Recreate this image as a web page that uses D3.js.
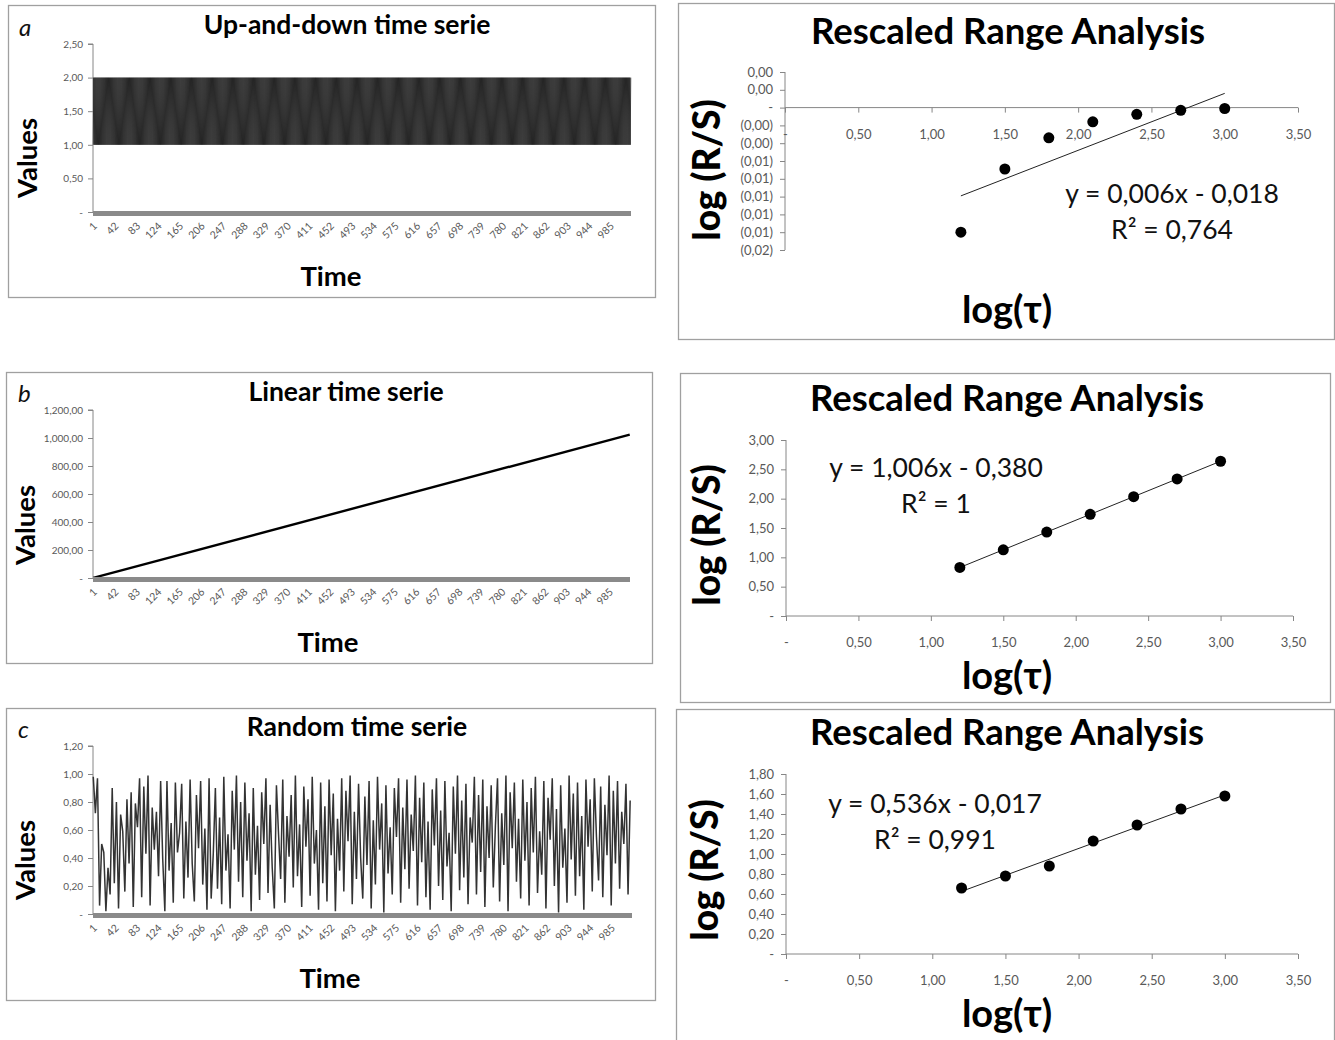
<!DOCTYPE html>
<html>
<head>
<meta charset="utf-8">
<script src="https://cdn.jsdelivr.net/npm/d3@7"></script>
<style>
  html, body { margin: 0; padding: 0; background: #fff; }
  svg { display: block; }
  text { font-family: Lato, "Open Sans", sans-serif; }
</style>
</head>
<body>
<svg id="fig" width="1335" height="1040"></svg>
<script>
// ---------- data ----------
// Time axis categories run from 1 to 1024; every 41st category is labelled.
const timeCount = 1024;
const timeTickLabels = ["1","42","83","124","165","206","247","288","329","370","411","452","493",
  "534","575","616","657","698","739","780","821","862","903","944","985"];

// (a) up-and-down series, one value per time step
const upDownValues = [
1,2,1,2,1,2,1,2,1,2,1,2,1,2,1,2,1,2,1,2,1,2,1,2,1,2,1,2,1,2,1,2,
1,2,1,2,1,2,1,2,1,2,1,2,1,2,1,2,1,2,1,2,1,2,1,2,1,2,1,2,1,2,1,2,
1,2,1,2,1,2,1,2,1,2,1,2,1,2,1,2,1,2,1,2,1,2,1,2,1,2,1,2,1,2,1,2,
1,2,1,2,1,2,1,2,1,2,1,2,1,2,1,2,1,2,1,2,1,2,1,2,1,2,1,2,1,2,1,2,
1,2,1,2,1,2,1,2,1,2,1,2,1,2,1,2,1,2,1,2,1,2,1,2,1,2,1,2,1,2,1,2,
1,2,1,2,1,2,1,2,1,2,1,2,1,2,1,2,1,2,1,2,1,2,1,2,1,2,1,2,1,2,1,2,
1,2,1,2,1,2,1,2,1,2,1,2,1,2,1,2,1,2,1,2,1,2,1,2,1,2,1,2,1,2,1,2,
1,2,1,2,1,2,1,2,1,2,1,2,1,2,1,2,1,2,1,2,1,2,1,2,1,2,1,2,1,2,1,2,
1,2,1,2,1,2,1,2,1,2,1,2,1,2,1,2,1,2,1,2,1,2,1,2,1,2,1,2,1,2,1,2,
1,2,1,2,1,2,1,2,1,2,1,2,1,2,1,2,1,2,1,2,1,2,1,2,1,2,1,2,1,2,1,2,
1,2,1,2,1,2,1,2,1,2,1,2,1,2,1,2,1,2,1,2,1,2,1,2,1,2,1,2,1,2,1,2,
1,2,1,2,1,2,1,2,1,2,1,2,1,2,1,2,1,2,1,2,1,2,1,2,1,2,1,2,1,2,1,2,
1,2,1,2,1,2,1,2,1,2,1,2,1,2,1,2,1,2,1,2,1,2,1,2,1,2,1,2,1,2,1,2,
1,2,1,2,1,2,1,2,1,2,1,2,1,2,1,2,1,2,1,2,1,2,1,2,1,2,1,2,1,2,1,2,
1,2,1,2,1,2,1,2,1,2,1,2,1,2,1,2,1,2,1,2,1,2,1,2,1,2,1,2,1,2,1,2,
1,2,1,2,1,2,1,2,1,2,1,2,1,2,1,2,1,2,1,2,1,2,1,2,1,2,1,2,1,2,1,2,
1,2,1,2,1,2,1,2,1,2,1,2,1,2,1,2,1,2,1,2,1,2,1,2,1,2,1,2,1,2,1,2,
1,2,1,2,1,2,1,2,1,2,1,2,1,2,1,2,1,2,1,2,1,2,1,2,1,2,1,2,1,2,1,2,
1,2,1,2,1,2,1,2,1,2,1,2,1,2,1,2,1,2,1,2,1,2,1,2,1,2,1,2,1,2,1,2,
1,2,1,2,1,2,1,2,1,2,1,2,1,2,1,2,1,2,1,2,1,2,1,2,1,2,1,2,1,2,1,2,
1,2,1,2,1,2,1,2,1,2,1,2,1,2,1,2,1,2,1,2,1,2,1,2,1,2,1,2,1,2,1,2,
1,2,1,2,1,2,1,2,1,2,1,2,1,2,1,2,1,2,1,2,1,2,1,2,1,2,1,2,1,2,1,2,
1,2,1,2,1,2,1,2,1,2,1,2,1,2,1,2,1,2,1,2,1,2,1,2,1,2,1,2,1,2,1,2,
1,2,1,2,1,2,1,2,1,2,1,2,1,2,1,2,1,2,1,2,1,2,1,2,1,2,1,2,1,2,1,2,
1,2,1,2,1,2,1,2,1,2,1,2,1,2,1,2,1,2,1,2,1,2,1,2,1,2,1,2,1,2,1,2,
1,2,1,2,1,2,1,2,1,2,1,2,1,2,1,2,1,2,1,2,1,2,1,2,1,2,1,2,1,2,1,2,
1,2,1,2,1,2,1,2,1,2,1,2,1,2,1,2,1,2,1,2,1,2,1,2,1,2,1,2,1,2,1,2,
1,2,1,2,1,2,1,2,1,2,1,2,1,2,1,2,1,2,1,2,1,2,1,2,1,2,1,2,1,2,1,2,
1,2,1,2,1,2,1,2,1,2,1,2,1,2,1,2,1,2,1,2,1,2,1,2,1,2,1,2,1,2,1,2,
1,2,1,2,1,2,1,2,1,2,1,2,1,2,1,2,1,2,1,2,1,2,1,2,1,2,1,2,1,2,1,2,
1,2,1,2,1,2,1,2,1,2,1,2,1,2,1,2,1,2,1,2,1,2,1,2,1,2,1,2,1,2,1,2,
1,2,1,2,1,2,1,2,1,2,1,2,1,2,1,2,1,2,1,2,1,2,1,2,1,2,1,2,1,2,1,2
];

// (b) linear series: a straight line, given by its end points
const linearTimes  = [1, 1024];
const linearValues = [1, 1024];

// (c) random series, sampled every 4th time step
const randomStep = 4;
const randomValues = [
.98,.72,.97,.06,.50,.44,.02,.33,.14,.90,.22,.80,.04,.71,.59,.16,
.82,.36,.87,.05,.79,.62,.97,.12,.91,.43,.99,.06,.76,.46,.73,.27,
.95,.39,.02,.95,.31,.65,.08,.94,.44,.58,.93,.11,.66,.26,.96,.36,
.09,.85,.47,.95,.21,.61,.03,.97,.11,.43,.90,.18,.69,.07,.98,.31,
.57,.04,.88,.46,.99,.23,.80,.12,.94,.38,.72,.02,.90,.28,.63,.10,
.87,.50,.97,.15,.78,.33,.04,.92,.57,.25,.96,.08,.70,.41,.85,.19,
.99,.27,.64,.05,.91,.48,.82,.13,.98,.36,.60,.03,.94,.22,.77,.09,
.96,.42,.86,.02,.68,.31,.97,.16,.88,.52,.99,.07,.73,.25,.93,.40,
.11,.84,.35,.95,.04,.67,.21,.98,.46,.79,.01,.92,.29,.62,.14,.90,
.55,.97,.08,.76,.32,.96,.18,.71,.45,.99,.06,.83,.37,.94,.12,.66,
.03,.89,.49,.97,.20,.74,.10,.95,.34,.58,.02,.91,.43,.99,.17,.81,
.26,.93,.07,.69,.51,.98,.14,.85,.30,.96,.05,.77,.40,.92,.19,.63,
.97,.09,.72,.35,.99,.02,.87,.47,.94,.23,.68,.11,.96,.38,.80,.06,
.90,.44,.98,.15,.59,.28,.95,.04,.83,.53,.97,.20,.75,.01,.92,.33,
.61,.08,.99,.39,.86,.13,.94,.27,.70,.03,.96,.48,.82,.16,.97,.55,
.24,.91,.12,.78,.42,.99,.06,.88,.36,.95,.18,.73,.50,.93,.14,.81
];

// Y tick values and labels of the time-series charts
const upDownYTicks  = [0, 0.5, 1, 1.5, 2, 2.5];
const upDownYLabels = ["-", "0,50", "1,00", "1,50", "2,00", "2,50"];
const linearYTicks  = [0, 200, 400, 600, 800, 1000, 1200];
const linearYLabels = ["-", "200,00", "400,00", "600,00", "800,00", "1,000,00", "1,200,00"];
const randomYTicks  = [0, 0.2, 0.4, 0.6, 0.8, 1, 1.2];
const randomYLabels = ["-", "0,20", "0,40", "0,60", "0,80", "1,00", "1,20"];

// Rescaled range analysis: log(tau) and log(R/S) for each series
const logTau = [1.2, 1.5, 1.8, 2.1, 2.4, 2.7, 3.0];
const rsUpDown = [-0.0140, -0.0069, -0.0034, -0.0016, -0.00075, -0.0003, -0.0001];
const rsLinear = [0.827, 1.129, 1.431, 1.733, 2.034, 2.336, 2.638];
const rsRandom = [0.66, 0.78, 0.88, 1.13, 1.29, 1.45, 1.58];

// Linear trend lines (slope, intercept) and their R²
const trendSlopes     = [0.0064, 1.006, 0.536];
const trendIntercepts = [-0.0176, -0.380, -0.017];
const trendR2         = [0.764, 1, 0.991];

const rsXTicks  = [0, 0.5, 1, 1.5, 2, 2.5, 3, 3.5];
const rsXLabels = ["-", "0,50", "1,00", "1,50", "2,00", "2,50", "3,00", "3,50"];
const rsUpDownYTicks  = [0.004, 0.002, 0, -0.002, -0.004, -0.006, -0.008, -0.010, -0.012, -0.014, -0.016];
const rsUpDownYLabels = ["0,00", "0,00", "-", "(0,00)", "(0,00)", "(0,01)", "(0,01)", "(0,01)", "(0,01)", "(0,01)", "(0,02)"];
const rsLinearYTicks  = [0, 0.5, 1, 1.5, 2, 2.5, 3];
const rsLinearYLabels = ["-", "0,50", "1,00", "1,50", "2,00", "2,50", "3,00"];
const rsRandomYTicks  = [0, 0.2, 0.4, 0.6, 0.8, 1, 1.2, 1.4, 1.6, 1.8];
const rsRandomYLabels = ["-", "0,20", "0,40", "0,60", "0,80", "1,00", "1,20", "1,40", "1,60", "1,80"];

// ---------- drawing ----------
const svg = d3.select("#fig");
const AXIS = "#868686", LABEL = "#595959", FRAME = "#a0a0a0";
const timeCategories = d3.range(1, timeCount + 1);

function frame(x0, y0, x1, y1) {
  svg.append("rect").attr("x", x0 + 0.5).attr("y", y0 + 0.5)
    .attr("width", x1 - x0).attr("height", y1 - y0)
    .attr("fill", "none").attr("stroke", FRAME).attr("stroke-width", 1.3);
}

function timePanel(o) {
  frame(...o.box);
  const x = d3.scaleBand().domain(timeCategories).range([o.left, o.right]);
  const cx = t => x(t) + x.bandwidth() / 2;
  const y = d3.scaleLinear().domain(o.yDomain).range([o.bottom, o.top]);
  const g = svg.append("g");

  // y axis
  const ya = d3.axisLeft(y).tickValues(o.yTicks).tickSize(5)
    .tickFormat((d, i) => o.yLabels[i]);
  const yg = g.append("g").attr("transform", `translate(${o.left},0)`).call(ya);
  yg.select(".domain").attr("stroke", AXIS).attr("d", `M-5,${y(o.yDomain[1])}H0V${y(0)}`);
  yg.selectAll(".tick line").attr("stroke", AXIS);
  yg.selectAll(".tick text").attr("fill", LABEL).attr("font-size", 10)
    .attr("font-family", "Lato").attr("x", -10);

  // series
  o.draw(g, cx, y);

  // thick category axis
  g.append("line").attr("x1", o.left).attr("x2", o.right)
    .attr("y1", y(0) + 1.5).attr("y2", y(0) + 1.5)
    .attr("stroke", "#8a8a8a").attr("stroke-width", 5);

  // rotated category labels
  g.selectAll(".cat").data(timeTickLabels).join("text")
    .attr("class", "cat")
    .attr("transform", d => `translate(${cx(+d) + 2},${y(0) + 12}) rotate(-45)`)
    .attr("text-anchor", "end").attr("dy", "0.35em")
    .attr("font-size", 10.5).attr("fill", LABEL)
    .text(d => d);

  // titles
  svg.append("text").attr("x", o.letter[0]).attr("y", o.letter[1])
    .attr("font-size", 24).attr("font-style", "italic").attr("fill", "#111")
    .attr("dominant-baseline", "middle").text(o.letterText);
  svg.append("text").attr("x", o.title[0]).attr("y", o.title[1])
    .attr("text-anchor", "middle").attr("dominant-baseline", "middle")
    .attr("font-size", 26.5).attr("font-weight", "bold").text(o.titleText);
  svg.append("text").attr("x", o.xTitle[0]).attr("y", o.xTitle[1])
    .attr("text-anchor", "middle").attr("dominant-baseline", "middle")
    .attr("font-size", 27.5).attr("font-weight", "bold").text("Time");
  svg.append("text")
    .attr("transform", `translate(${o.yTitle[0]},${o.yTitle[1]}) rotate(-90)`)
    .attr("text-anchor", "middle").attr("dominant-baseline", "middle")
    .attr("font-size", 27.5).attr("font-weight", "bold").text("Values");
}

function rsPanel(o) {
  frame(...o.box);
  const x = d3.scaleLinear().domain([0, 3.5]).range([o.left, o.right]);
  const y = d3.scaleLinear().domain(o.yDomain).range([o.bottom, o.top]);
  const g = svg.append("g");

  // y axis
  const ya = d3.axisLeft(y).tickValues(o.yTicks).tickSize(5)
    .tickFormat((d, i) => o.yLabels[i]);
  const yg = g.append("g").attr("transform", `translate(${o.left},0)`).call(ya);
  yg.select(".domain").attr("stroke", AXIS)
    .attr("d", `M0,${y(o.yDomain[1])}V${y(o.yDomain[0])}`);
  yg.selectAll(".tick line").attr("stroke", AXIS);
  yg.selectAll(".tick text").attr("fill", LABEL).attr("font-size", 13)
    .attr("font-family", "Lato").attr("x", -12);

  // x axis through zero
  const xa = d3.axisBottom(x).tickValues(rsXTicks).tickSize(5)
    .tickFormat((d, i) => rsXLabels[i]);
  const xg = g.append("g").attr("transform", `translate(0,${y(0)})`).call(xa);
  xg.select(".domain").attr("stroke", AXIS).attr("d", `M${x(0)},0H${x(3.5)}`);
  xg.selectAll(".tick line").attr("stroke", AXIS);
  xg.selectAll(".tick text").attr("fill", LABEL).attr("font-size", 13)
    .attr("font-family", "Lato").attr("y", 22);

  // trend line over the sampled range
  const k = o.trend;
  const tx = d3.extent(logTau);
  g.append("line")
    .attr("x1", x(tx[0])).attr("y1", y(trendSlopes[k] * tx[0] + trendIntercepts[k]))
    .attr("x2", x(tx[1])).attr("y2", y(trendSlopes[k] * tx[1] + trendIntercepts[k]))
    .attr("stroke", "#222").attr("stroke-width", 1);

  // points
  g.selectAll("circle").data(o.values).join("circle")
    .attr("cx", (d, i) => x(logTau[i])).attr("cy", d => y(d))
    .attr("r", 5.5).attr("fill", "#000");

  // trend equation
  const f3 = v => d3.format(".3f")(v).replace(".", ",");
  const fr = v => d3.format(".3~f")(v).replace(".", ",");
  const b = trendIntercepts[k];
  const eq = `y = ${f3(trendSlopes[k])}x ${b < 0 ? "-" : "+"} ${f3(Math.abs(b))}`;
  svg.append("text").attr("x", o.eq[0]).attr("y", o.eq[1])
    .attr("text-anchor", "middle").attr("dominant-baseline", "middle")
    .attr("font-size", 26.5).attr("fill", "#111").text(eq);
  svg.append("text").attr("x", o.eq[0]).attr("y", o.eq[1] + 36)
    .attr("text-anchor", "middle").attr("dominant-baseline", "middle")
    .attr("font-size", 26.5).attr("fill", "#111").text(`R² = ${fr(trendR2[k])}`);

  // titles
  svg.append("text").attr("x", o.title[0]).attr("y", o.title[1])
    .attr("text-anchor", "middle").attr("dominant-baseline", "middle")
    .attr("font-size", 36.5).attr("font-weight", "bold").text("Rescaled Range Analysis");
  svg.append("text").attr("x", o.xTitle[0]).attr("y", o.xTitle[1])
    .attr("text-anchor", "middle").attr("dominant-baseline", "middle")
    .attr("font-size", 38).attr("font-weight", "bold").text("log(τ)");
  svg.append("text")
    .attr("transform", `translate(${o.yTitle[0]},${o.yTitle[1]}) rotate(-90)`)
    .attr("text-anchor", "middle").attr("dominant-baseline", "middle")
    .attr("font-size", 37).attr("font-weight", "900").text("log (R/S)");
}

const seriesLine = (cx, y) => d3.line().x(d => cx(d.t)).y(d => y(d.v));

// (a) up-and-down
timePanel({
  box: [8, 5, 655, 297], left: 93, right: 631, top: 44, bottom: 212,
  yDomain: [0, 2.5], yTicks: upDownYTicks, yLabels: upDownYLabels,
  letter: [19, 30], letterText: "a", title: [347, 27], titleText: "Up-and-down time serie",
  xTitle: [331, 279], yTitle: [30, 158],
  draw: (g, cx, y) => {
    const pts = upDownValues.map((v, i) => ({ t: i + 1, v }));
    g.append("path").attr("d", seriesLine(cx, y)(pts))
      .attr("fill", "none").attr("stroke", "#1a1a1a").attr("stroke-width", 0.8);
  }
});

// (b) linear
timePanel({
  box: [6, 372, 652, 663], left: 93, right: 630, top: 410, bottom: 578,
  yDomain: [0, 1200], yTicks: linearYTicks, yLabels: linearYLabels,
  letter: [18, 396], letterText: "b", title: [346, 394], titleText: "Linear time serie",
  xTitle: [328, 645], yTitle: [28, 525],
  draw: (g, cx, y) => {
    const pts = linearTimes.map((t, i) => ({ t, v: linearValues[i] }));
    g.append("path").attr("d", seriesLine(cx, y)(pts))
      .attr("fill", "none").attr("stroke", "#000").attr("stroke-width", 2.4);
  }
});

// (c) random
timePanel({
  box: [6, 708, 655, 1000], left: 93, right: 632, top: 746, bottom: 914,
  yDomain: [0, 1.2], yTicks: randomYTicks, yLabels: randomYLabels,
  letter: [18, 732], letterText: "c", title: [357, 729], titleText: "Random time serie",
  xTitle: [330, 981], yTitle: [28, 860],
  draw: (g, cx, y) => {
    const pts = randomValues.map((v, i) => ({ t: 1 + i * randomStep, v }));
    g.append("path").attr("d", seriesLine(cx, y)(pts))
      .attr("fill", "none").attr("stroke", "#333").attr("stroke-width", 1.5);
  }
});

// R/S panels
rsPanel({
  box: [678, 3, 1334, 339], left: 785, right: 1298, top: 72, bottom: 250,
  yDomain: [-0.016, 0.004], yTicks: rsUpDownYTicks, yLabels: rsUpDownYLabels,
  values: rsUpDown, trend: 0,
  title: [1008, 35], xTitle: [1007, 313], yTitle: [710, 170], eq: [1172, 196]
});
rsPanel({
  box: [680, 373, 1330, 702], left: 786, right: 1293, top: 440, bottom: 616,
  yDomain: [0, 3], yTicks: rsLinearYTicks, yLabels: rsLinearYLabels,
  values: rsLinear, trend: 1,
  title: [1007, 402], xTitle: [1007, 679], yTitle: [710, 535], eq: [936, 470]
});
rsPanel({
  box: [676, 709, 1334, 1045], left: 786, right: 1298, top: 774, bottom: 954,
  yDomain: [0, 1.8], yTicks: rsRandomYTicks, yLabels: rsRandomYLabels,
  values: rsRandom, trend: 2,
  title: [1007, 736], xTitle: [1007, 1017], yTitle: [708, 870], eq: [935, 806]
});
</script>
</body>
</html>
